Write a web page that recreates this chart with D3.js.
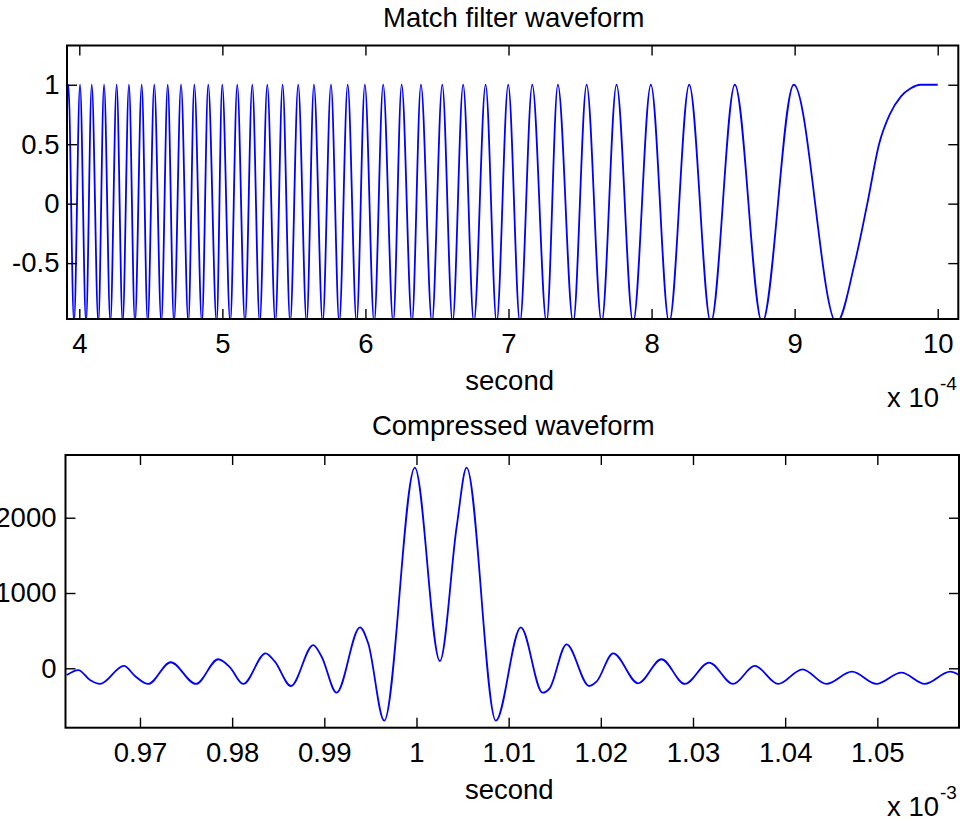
<!DOCTYPE html>
<html>
<head>
<meta charset="utf-8">
<script src="https://cdn.jsdelivr.net/npm/d3@7"></script>
<style>
  body { margin: 0; background: #fff; }
  text { font-family: "Liberation Sans", Arial, Helvetica, sans-serif; fill: #000; }
</style>
</head>
<body>
<svg id="fig" width="963" height="822"></svg>
<script>
// ---- Match filter waveform (time axis in units of 1e-4 s) ----
const chirpStart = { t: 3.914, v: 0.76 };
const chirpPeakTimes = [
  3.923, 4.005, 4.087, 4.173, 4.261, 4.347, 4.436, 4.524, 4.618, 4.711,
  4.804, 4.901, 4.999, 5.104, 5.209, 5.314, 5.421, 5.530, 5.640, 5.759,
  5.876, 5.996, 6.124, 6.253, 6.388, 6.537, 6.683, 6.840, 6.998, 7.166,
  7.345, 7.546, 7.755, 7.995, 8.263, 8.582, 8.994
];
const chirpTroughTimes = [
  3.963, 4.047, 4.133, 4.217, 4.303, 4.389, 4.478, 4.573, 4.662, 4.762,
  4.857, 4.960, 5.055, 5.158, 5.261, 5.370, 5.474, 5.589, 5.701, 5.817,
  5.938, 6.061, 6.194, 6.325, 6.465, 6.609, 6.758, 6.917, 7.080, 7.266,
  7.452, 7.651, 7.871, 8.123, 8.414, 8.773, 9.293
];
const chirpTailTimes  = [9.420, 9.508, 9.590, 9.665, 9.742, 9.812, 9.880, 10.0];
const chirpTailValues = [-0.5,  0,     0.5,   0.75,  0.9,   0.97,  1,     1];
const topXTicks = [4, 5, 6, 7, 8, 9, 10];
const topYTicks = [-0.5, 0, 0.5, 1];
const topXDomain = [3.914, 10.144];
const topYDomain = [-0.97, 1.33];

// ---- Compressed waveform (time axis in units of 1e-3 s) ----
const pulseTimes = [
  0.96205, 0.96331, 0.96458, 0.96566, 0.96826, 0.96946, 0.97090, 0.97333,
  0.97607, 0.97849, 0.97976, 0.98120, 0.98363, 0.98464, 0.98638, 0.98880,
  0.98971, 0.99133, 0.99387, 0.99476, 0.99650, 0.99982, 1.00254, 1.00436,
  1.00544, 1.00861, 1.01132, 1.01368, 1.01445, 1.01628, 1.01873, 1.01953,
  1.02134, 1.02405, 1.02658, 1.02911, 1.03175, 1.03435, 1.03670, 1.03923,
  1.04188, 1.04448, 1.04725, 1.04990, 1.05261, 1.05514, 1.05791, 1.05886
];
const pulseValues = [
  -89, -23, -155, -208, 31, -102, -208, 80,
  -208, 120, 13, -208, 199, 88, -235, 309,
  154, -324, 544, 332, -696, 2664, 97, 1880,
  2664, -696, 544, -324, -266, 319, -235, -178,
  199, -199, 120, -208, 75, -208, 31, -208,
  -13, -208, -45, -208, -58, -208, -45, -89
];
const bottomXTicks = [0.97, 0.98, 0.99, 1, 1.01, 1.02, 1.03, 1.04, 1.05];
const bottomYTicks = [0, 1000, 2000];
const bottomXDomain = [0.96192, 1.05886];
const bottomYDomain = [-789, 2833];

const svg = d3.select("#fig");
svg.append("rect").attr("width", 963).attr("height", 822).attr("fill", "#fff");

const FONT = 27.5;
const FAMILY = '"Liberation Sans", Arial, Helvetica, sans-serif';
const LINE = "#0000ff";
const plain = d => String(d);

function panel(cfg) {
  const { left, right, top, bottom } = cfg.box;
  const x = d3.scaleLinear().domain(cfg.xDomain).range([left, right]);
  const y = d3.scaleLinear().domain(cfg.yDomain).range([bottom, top]);
  const g = svg.append("g");

  const clipId = "clip-" + cfg.id;
  svg.append("clipPath").attr("id", clipId)
    .append("rect").attr("x", left).attr("y", top)
    .attr("width", right - left).attr("height", bottom - top);

  // data line
  const line = d3.line().x(d => x(d[0])).y(d => y(d[1])).curve(d3.curveMonotoneX);
  g.append("path")
    .attr("clip-path", `url(#${clipId})`)
    .attr("d", line(cfg.points))
    .attr("fill", "none")
    .attr("stroke", LINE)
    .attr("stroke-width", 1.8)
    .attr("stroke-linejoin", "round");

  const styleAxis = sel => {
    sel.select(".domain").remove();
    sel.selectAll(".tick line").attr("stroke", "#000").attr("stroke-width", 1.4);
    sel.selectAll("text").attr("font-size", FONT).attr("font-family", FAMILY).attr("fill", "#000");
  };

  g.append("g").attr("transform", `translate(0,${bottom})`)
    .call(d3.axisBottom(x).tickValues(cfg.xTicks).tickSize(-10).tickPadding(14.5).tickFormat(plain))
    .call(styleAxis);
  g.append("g").attr("transform", `translate(0,${top})`)
    .call(d3.axisTop(x).tickValues(cfg.xTicks).tickSize(-10).tickFormat(""))
    .call(styleAxis);
  g.append("g").attr("transform", `translate(${left},0)`)
    .call(d3.axisLeft(y).tickValues(cfg.yTicks).tickSize(-10).tickPadding(cfg.yPad).tickFormat(plain))
    .call(styleAxis);
  g.append("g").attr("transform", `translate(${right},0)`)
    .call(d3.axisRight(y).tickValues(cfg.yTicks).tickSize(-10).tickFormat(""))
    .call(styleAxis);

  // axes box
  g.append("rect")
    .attr("x", left).attr("y", top)
    .attr("width", right - left).attr("height", bottom - top)
    .attr("fill", "none").attr("stroke", "#000").attr("stroke-width", 2);

  // title
  g.append("text").attr("x", (left + right) / 2 + 1).attr("y", top + cfg.titleDy)
    .attr("text-anchor", "middle").attr("font-size", FONT).text(cfg.title);
  // x label
  g.append("text").attr("x", (left + right) / 2 - 3).attr("y", bottom + 71)
    .attr("text-anchor", "middle").attr("font-size", FONT).text("second");
  // exponent
  const ex = g.append("text").attr("x", 887).attr("y", bottom + 88).attr("font-size", FONT);
  ex.append("tspan").text("x 10");
  ex.append("tspan").attr("font-size", 19).attr("dy", -17).attr("dx", 1).text(cfg.exponent);
}

// Assemble the chirp polyline from the read extrema and the tail samples.
const chirpPoints = [[chirpStart.t, chirpStart.v]]
  .concat(chirpPeakTimes.map(t => [t, 1]))
  .concat(chirpTroughTimes.map(t => [t, -1]))
  .sort((a, b) => a[0] - b[0])
  .concat(chirpTailTimes.map((t, i) => [t, chirpTailValues[i]]));

const pulsePoints = pulseTimes.map((t, i) => [t, pulseValues[i]]);

panel({
  id: "top", box: { left: 67, right: 958.3, top: 45.5, bottom: 319 },
  xDomain: topXDomain, yDomain: topYDomain,
  xTicks: topXTicks, yTicks: topYTicks, yPad: 7.5,
  points: chirpPoints, title: "Match filter waveform", titleDy: -19, exponent: "-4"
});

panel({
  id: "bottom", box: { left: 65.5, right: 959, top: 455, bottom: 727.7 },
  xDomain: bottomXDomain, yDomain: bottomYDomain,
  xTicks: bottomXTicks, yTicks: bottomYTicks, yPad: 9,
  points: pulsePoints, title: "Compressed waveform", titleDy: -20, exponent: "-3"
});
</script>
</body>
</html>
